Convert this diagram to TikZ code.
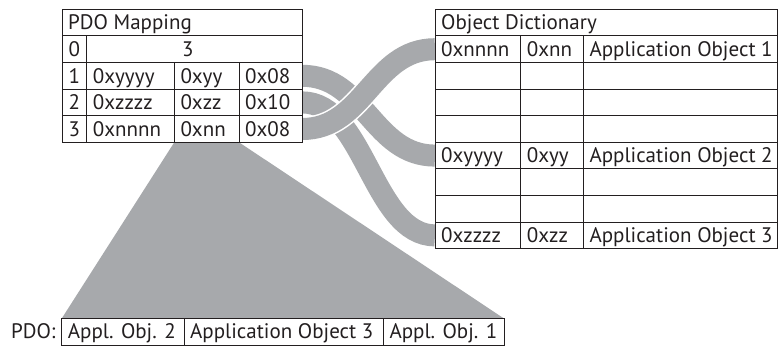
\documentclass[tikz,border=0pt]{standalone}
\usepackage{fontspec}
\setmainfont{PT Sans}
\usetikzlibrary{calc}
\definecolor{rgray}{RGB}{167,169,172}
\definecolor{ink}{RGB}{35,31,32}
\pgfdeclarelayer{background}
\pgfsetlayers{background,main}
\begin{document}
\begin{tikzpicture}[x=1pt,y=-1pt,
  cell/.style={draw=ink, fill=white, line width=0.9pt, inner sep=0pt, outer sep=0pt, anchor=north west, minimum height=26.6pt},
  txt/.style={inner sep=0pt, anchor=base west, font=\fontsize{21}{25}\selectfont, text=ink},
  ctxt/.style={txt, anchor=base},
  ribbon/.style={draw=white, line width=1.5pt, double=rgray, double distance=22pt},
  fan/.style={fill=rgray, draw=none}
]
\useasboundingbox (0,0) rectangle (778,347);

% ---------- PDO Mapping table ----------
\node[cell, minimum width=240.3pt] (mt) at (62,9.3) {};
\node[cell, minimum width=24.7pt] (m0i) at (62,35.9) {};
\node[cell, minimum width=215.6pt] (m0v) at (86.7,35.9) {};
\foreach \r/\y in {1/62.5,2/89.1,3/115.7}{
  \node[cell, minimum width=24.7pt] (m\r i) at (62,\y) {};
  \node[cell, minimum width=87.6pt] (m\r a) at (86.7,\y) {};
  \node[cell, minimum width=64.7pt] (m\r b) at (174.3,\y) {};
  \node[cell, minimum width=63.3pt] (m\r c) at (239,\y) {};
}
\node[txt] (tmt) at ([xshift=6pt,yshift=6pt]mt.south west) {PDO Mapping};
\node[ctxt] (t0i) at ([yshift=6pt]m0i.south) {0};
\node[ctxt] (t0v) at ([xshift=-6.6pt,yshift=6pt]m0v.south) {3};
\node[ctxt] (t1i) at ([yshift=6pt]m1i.south) {1};
\node[ctxt] (t2i) at ([yshift=6pt]m2i.south) {2};
\node[ctxt] (t3i) at ([yshift=6pt]m3i.south) {3};
\node[txt] (t1a) at ([xshift=6pt,yshift=6pt]m1a.south west) {0xyyyy};
\node[txt] (t1b) at ([xshift=6pt,yshift=6pt]m1b.south west) {0xyy};
\node[txt] (t1c) at ([xshift=6pt,yshift=6pt]m1c.south west) {0x08};
\node[txt] (t2a) at ([xshift=6pt,yshift=6pt]m2a.south west) {0xzzzz};
\node[txt] (t2b) at ([xshift=6pt,yshift=6pt]m2b.south west) {0xzz};
\node[txt] (t2c) at ([xshift=6pt,yshift=6pt]m2c.south west) {0x10};
\node[txt] (t3a) at ([xshift=6pt,yshift=6pt]m3a.south west) {0xnnnn};
\node[txt] (t3b) at ([xshift=6pt,yshift=6pt]m3b.south west) {0xnn};
\node[txt] (t3c) at ([xshift=6pt,yshift=6pt]m3c.south west) {0x08};

% ---------- Object Dictionary ----------
\node[cell, minimum width=342pt] (dt) at (435,9.3) {};
\foreach \r/\y in {1/35.9,2/62.5,3/89.1,4/115.7,5/142.3,6/168.9,7/195.5,8/222.1}{
  \node[cell, minimum width=85.7pt] (d\r a) at (435,\y) {};
  \node[cell, minimum width=62.6pt] (d\r b) at (520.7,\y) {};
  \node[cell, minimum width=193.7pt] (d\r c) at (583.3,\y) {};
}
\node[txt] (tdt) at ([xshift=6pt,yshift=6pt]dt.south west) {Object Dictionary};
\node[txt] (td1a) at ([xshift=6pt,yshift=6pt]d1a.south west) {0xnnnn};
\node[txt] (td1b) at ([xshift=6pt,yshift=6pt]d1b.south west) {0xnn};
\node[txt] (td1c) at ([xshift=6pt,yshift=6pt]d1c.south west) {Application Object 1};
\node[txt] (td5a) at ([xshift=6pt,yshift=6pt]d5a.south west) {0xyyyy};
\node[txt] (td5b) at ([xshift=6pt,yshift=6pt]d5b.south west) {0xyy};
\node[txt] (td5c) at ([xshift=6pt,yshift=6pt]d5c.south west) {Application Object 2};
\node[txt] (td8a) at ([xshift=6pt,yshift=6pt]d8a.south west) {0xzzzz};
\node[txt] (td8b) at ([xshift=6pt,yshift=6pt]d8b.south west) {0xzz};
\node[txt] (td8c) at ([xshift=6pt,yshift=6pt]d8c.south west) {Application Object 3};

% ---------- PDO ----------
\node[cell, minimum width=122.3pt, minimum height=26.5pt] (p1) at (61.7,318.5) {};
\node[cell, minimum width=199.3pt, minimum height=26.5pt] (p2) at (184,318.5) {};
\node[cell, minimum width=120.7pt, minimum height=26.5pt] (p3) at (383.3,318.5) {};
\node[txt] (tp1) at ([xshift=6pt,yshift=6.5pt]p1.south west) {Appl. Obj. 2};
\node[txt] (tp2) at ([xshift=6pt,yshift=6.5pt]p2.south west) {Application Object 3};
\node[txt] (tp3) at ([xshift=6pt,yshift=6.5pt]p3.south west) {Appl. Obj. 1};
\node[txt, anchor=base east] (tpdo) at ([xshift=-6pt,yshift=6.5pt]p1.south west) {PDO:};

% ---------- gray shapes behind ----------
\begin{pgfonlayer}{background}
\fill[fan] (m3b.south west) -- (m3b.south east) -- (p3.north east) -- (p1.north west) -- cycle;
\draw[ribbon] (m1c.east) .. controls +(62,0) and +(-62,0) .. (d5a.west);
\draw[ribbon] (m2c.east) .. controls +(62,0) and +(-62,0) .. (d8a.west);
\draw[ribbon] (m3c.east) .. controls +(62,0) and +(-62,0) .. (d1a.west);
\end{pgfonlayer}
\end{tikzpicture}
\end{document}
